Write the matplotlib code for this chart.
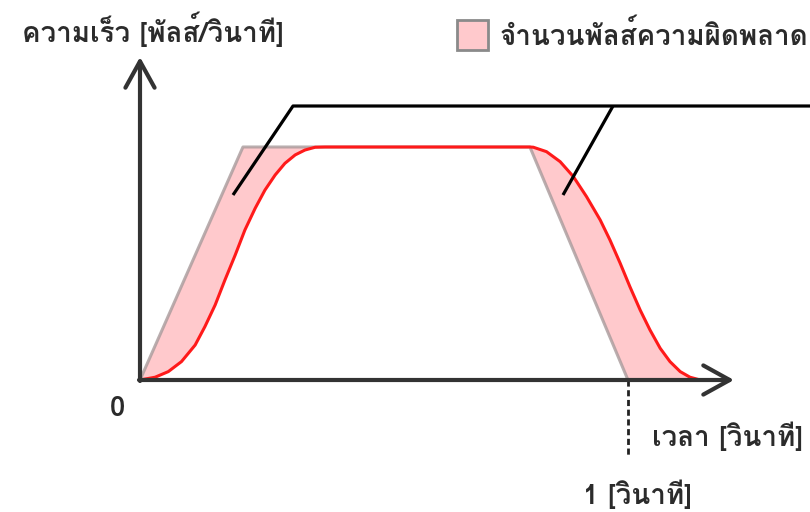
import matplotlib
matplotlib.use("Agg")
import matplotlib.pyplot as plt
from matplotlib.patches import Rectangle

plt.rcParams['font.family'] = ['Loma', 'Noto Sans Thai Looped', 'DejaVu Sans']

# commanded speed profile (trapezoid), time in s, speed normalised to max
cmd_t = [0.0, 0.211, 0.799, 1.0]
cmd_v = [0.0, 1.0, 1.0, 0.0]

# actual motor speed (lags behind the command)
act_t = [0.0, 0.031, 0.058, 0.085, 0.113, 0.133, 0.154, 0.174, 0.195, 0.215, 0.236,
         0.256, 0.277, 0.297, 0.318, 0.338, 0.359, 0.379,
         0.799, 0.806, 0.833, 0.861, 0.888, 0.915, 0.943, 0.963, 0.984, 1.004,
         1.025, 1.045, 1.066, 1.086, 1.107, 1.127, 1.148]
act_v = [0.0, 0.012, 0.036, 0.079, 0.150, 0.229, 0.322, 0.429, 0.536, 0.644, 0.737,
         0.815, 0.880, 0.930, 0.966, 0.987, 0.999, 1.0,
         1.0, 0.999, 0.980, 0.937, 0.873, 0.787, 0.687, 0.601, 0.501, 0.400,
         0.300, 0.215, 0.136, 0.079, 0.036, 0.012, 0.0]

y_label = "ความเร็ว [พัลส์/วินาที]"
x_label = "เวลา [วินาที]"
legend_label = "จำนวนพัลส์ความผิดพลาด"
zero_label = "0"
one_label = "1 [วินาที]"

W, H = 810, 512
ox, oy = 140, 380        # origin in pixels
sx, sy = 488, 233        # pixels per second / per unit speed

fig = plt.figure(figsize=(W / 100, H / 100), dpi=100)
ax = fig.add_axes([0, 0, 1, 1])
ax.set_xlim(-ox / sx, (W - ox) / sx)
ax.set_ylim((oy - H) / sy, oy / sy)
ax.axis('off')


def px(x, y):
    # pixel position -> data coords
    return (x - ox) / sx, (oy - y) / sy


# error area between command and actual
poly_t = cmd_t + act_t[::-1]
poly_v = cmd_v + act_v[::-1]
ax.fill(poly_t, poly_v, color='#ffc9cc', lw=0, zorder=1)
ax.plot(cmd_t, cmd_v, color='#a89a9b', lw=2.2, alpha=0.8, zorder=2)
ax.plot(act_t, act_v, color='#ff1a1a', lw=2.2, zorder=4, solid_joinstyle='round')

# axes with open arrow heads
axis_col = '#333333'
arrow = dict(arrowstyle='->,head_length=1.9,head_width=1.05', color=axis_col, lw=3,
             mutation_scale=10, shrinkA=0, shrinkB=0)
ax.annotate('', xy=px(140, 57), xytext=px(140, 381), arrowprops=arrow, zorder=5)
ax.annotate('', xy=px(734, 380), xytext=px(139, 380), arrowprops=arrow, zorder=5)

# dashed marker at t = 1 s
ax.plot([cmd_t[-1], cmd_t[-1]], [0, px(0, 455)[1]], color='#222222', lw=2,
        ls=(0, (2.2, 1.3)), zorder=3)

# leader lines
l1 = [px(233, 195), px(293, 106), px(812, 106)]
l2 = [px(563, 195), px(613, 106)]
ax.plot([p[0] for p in l1], [p[1] for p in l1], color='black', lw=2.3, zorder=6,
        solid_capstyle='butt')
ax.plot([p[0] for p in l2], [p[1] for p in l2], color='black', lw=2.3, zorder=6,
        solid_capstyle='butt')

# legend patch
rx0, ry0 = px(457, 50)
rx1, ry1 = px(488, 20)
ax.add_patch(Rectangle((rx0, ry0), rx1 - rx0, ry1 - ry0, facecolor='#ffc9cc',
                       edgecolor='#8a8a8a', lw=2, zorder=6))

txt = dict(color='#2b2b2b', fontsize=20, fontweight='bold', va='center')
ax.text(*px(22, 29), y_label, ha='left', **txt)
ax.text(*px(500, 35), legend_label, ha='left', **txt)
ax.text(*px(118, 408), zero_label, ha='center', **txt)
ax.text(*px(652, 436), x_label, ha='left', **txt)
ax.text(*px(583, 494), one_label, ha='left', **txt)

fig.savefig("out.png", dpi=100)
